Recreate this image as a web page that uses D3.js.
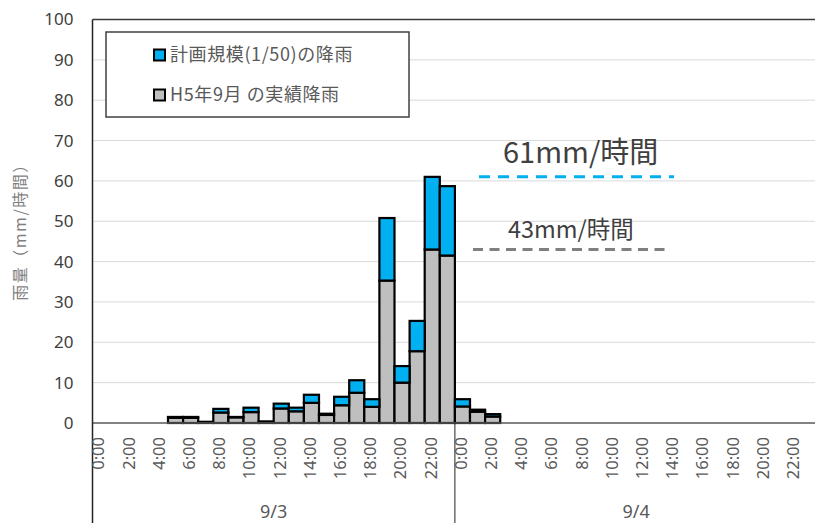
<!DOCTYPE html>
<html><head><meta charset="utf-8">
<script src="https://cdn.jsdelivr.net/npm/d3@7"></script>
<style>
body{margin:0;background:#fff;}
svg{display:block;font-family:"Noto Sans CJK JP","Noto Sans",sans-serif;}
</style></head>
<body><svg id="c" width="815" height="523"></svg>
<script>
// ---- data ----
const hourIndex = d3.range(48);               // 9/3 0:00 ... 9/4 23:00
const actual = [0,0,0,0,0,1.3,1.3,0.3,2.6,1.4,2.7,0.4,3.6,2.9,5.0,2.0,4.4,7.5,4.0,35.3,10.0,17.8,43.0,41.5,
                4.1,2.8,1.6,0,0,0,0,0,0,0,0,0,0,0,0,0,0,0,0,0,0,0,0,0];
const plan   = [0,0,0,0,0,1.5,1.5,0.3,3.5,1.5,3.8,0.4,4.8,3.8,7.0,2.3,6.5,10.6,5.9,50.8,14.1,25.3,61.0,58.7,
                5.9,3.3,2.2,0,0,0,0,0,0,0,0,0,0,0,0,0,0,0,0,0,0,0,0,0];
const tickLabels = ["0:00","2:00","4:00","6:00","8:00","10:00","12:00","14:00","16:00","18:00","20:00","22:00"];
const days = ["9/3","9/4"];
const yTicks = [0,10,20,30,40,50,60,70,80,90,100];
const seriesNames = ["計画規模(1/50)の降雨","H5年9月 の実績降雨"];
const refValues = [61,43];
const refLabels = ["61mm/時間","43mm/時間"];
const yTitle = "雨量（mm/時間）";

// ---- layout ----
const svg = d3.select("#c");
const pLeft = 92.5, band = 15.1, pTop = 19.5, base = 423;
const x = d3.scaleBand().domain(hourIndex).range([pLeft, pLeft + 48*band]).padding(0);
const y = d3.scaleLinear().domain([0,100]).range([base, pTop]);
const blue = "#00b0f0", gray = "#bfbfbf", txt = "#595959";

// gridlines
svg.append("g").selectAll("line").data(yTicks.filter(v=>v>0 && v<100)).join("line")
  .attr("x1", pLeft).attr("x2", 815).attr("y1", d=>y(d)).attr("y2", d=>y(d))
  .attr("stroke", "#d9d9d9").attr("stroke-width", 1);

// top border
svg.append("line").attr("x1", pLeft).attr("x2", 815).attr("y1", y(100)).attr("y2", y(100))
  .attr("stroke", "#3a3a3a").attr("stroke-width", 1.5);

// y axis labels
const yAxis = svg.append("g").attr("transform", `translate(${pLeft},0)`)
  .call(d3.axisLeft(y).tickValues(yTicks).tickSize(0).tickPadding(19));
yAxis.select(".domain").remove();
yAxis.selectAll("text").attr("font-size", 17).attr("fill", "#404040")
  .style("font-family", "'Noto Sans','Noto Sans CJK JP',sans-serif");

// y title
svg.append("text").attr("transform", "translate(26,228) rotate(-90)")
  .attr("text-anchor", "middle").attr("font-size", 16).attr("letter-spacing", 1.5)
  .attr("fill", "#7f7f7f").text(yTitle);

// bars: actual (gray) then plan excess (blue)
const bars = svg.append("g");
bars.selectAll("rect.a").data(hourIndex.filter(i=>actual[i]>0)).join("rect").attr("class","a")
  .attr("x", i=>x(i)).attr("width", x.bandwidth())
  .attr("y", i=>y(actual[i])).attr("height", i=>y(0)-y(actual[i]))
  .attr("fill", gray).attr("stroke", "#000").attr("stroke-width", 2.2);
bars.selectAll("rect.p").data(hourIndex.filter(i=>plan[i]-actual[i]>0.01)).join("rect").attr("class","p")
  .attr("x", i=>x(i)).attr("width", x.bandwidth())
  .attr("y", i=>y(plan[i])).attr("height", i=>y(actual[i])-y(plan[i]))
  .attr("fill", blue).attr("stroke", "#000").attr("stroke-width", 2.2);

// x axis line
svg.append("line").attr("x1", pLeft).attr("x2", 815).attr("y1", base).attr("y2", base)
  .attr("stroke", "#595959").attr("stroke-width", 1.5);
// left vertical line & day separator
svg.append("line").attr("x1", pLeft).attr("x2", pLeft).attr("y1", pTop).attr("y2", 523)
  .attr("stroke", "#222").attr("stroke-width", 1.5);
svg.append("line").attr("x1", x(24)).attr("x2", x(24)).attr("y1", base).attr("y2", 523)
  .attr("stroke", "#222").attr("stroke-width", 1);

// x tick labels
const xTickVals = hourIndex.filter(i=>i%2===0);
const xAxis = svg.append("g").attr("transform", `translate(0,${base})`)
  .call(d3.axisBottom(x).tickValues(xTickVals).tickSize(0).tickFormat(i=>tickLabels[(i%24)/2]));
xAxis.select(".domain").remove();
xAxis.selectAll("text")
  .attr("transform", "rotate(-90)").attr("text-anchor", "end")
  .attr("x", -14).attr("y", 0).attr("dy", "0.35em").attr("dx", 0)
  .attr("font-size", 16.5).attr("fill", txt)
  .style("font-family", "'Noto Sans','Noto Sans CJK JP',sans-serif");
xAxis.selectAll(".tick").attr("transform", d=>`translate(${x(d)+x.bandwidth()/2-1.5},0)`);

// day labels
svg.append("g").selectAll("text").data(days).join("text")
  .attr("x", (d,k)=> x(k*24) + 12*band).attr("y", 518)
  .attr("text-anchor", "middle").attr("font-size", 18).attr("fill", txt)
  .style("font-family", "'Noto Sans','Noto Sans CJK JP',sans-serif").text(d=>d);

// reference lines
const refColors = [blue, "#808080"];
const refDash = ["11,8", "10,6.5"];
const refX = [[479,674],[473,668]];
const refLblX = [503, 508];
const refLblY = [163, 238];
const refFont = [29, 23.5];
refValues.forEach((v,k)=>{
  svg.append("line").attr("x1", refX[k][0]).attr("x2", refX[k][1]).attr("y1", y(v)).attr("y2", y(v))
    .attr("stroke", refColors[k]).attr("stroke-width", 3).attr("stroke-dasharray", refDash[k]);
  svg.append("text").attr("x", refLblX[k]).attr("y", refLblY[k]).attr("font-size", refFont[k])
    .attr("fill", "#404040").text(refLabels[k]);
});

// legend
const lg = svg.append("g");
lg.append("rect").attr("x", 106).attr("y", 32).attr("width", 303).attr("height", 85)
  .attr("fill", "#fff").attr("stroke", "#404040").attr("stroke-width", 1.5);
const lgY = [55, 95], lgCol = [blue, gray];
seriesNames.forEach((s,k)=>{
  lg.append("rect").attr("x", 154).attr("y", lgY[k]-5.5).attr("width", 11).attr("height", 11)
    .attr("fill", lgCol[k]).attr("stroke", "#000").attr("stroke-width", 2);
  lg.append("text").attr("x", 170).attr("y", lgY[k]).attr("dy", "0.36em").attr("font-size", 18)
    .attr("letter-spacing", 0.6).attr("fill", txt).text(s);
});
</script></body></html>
